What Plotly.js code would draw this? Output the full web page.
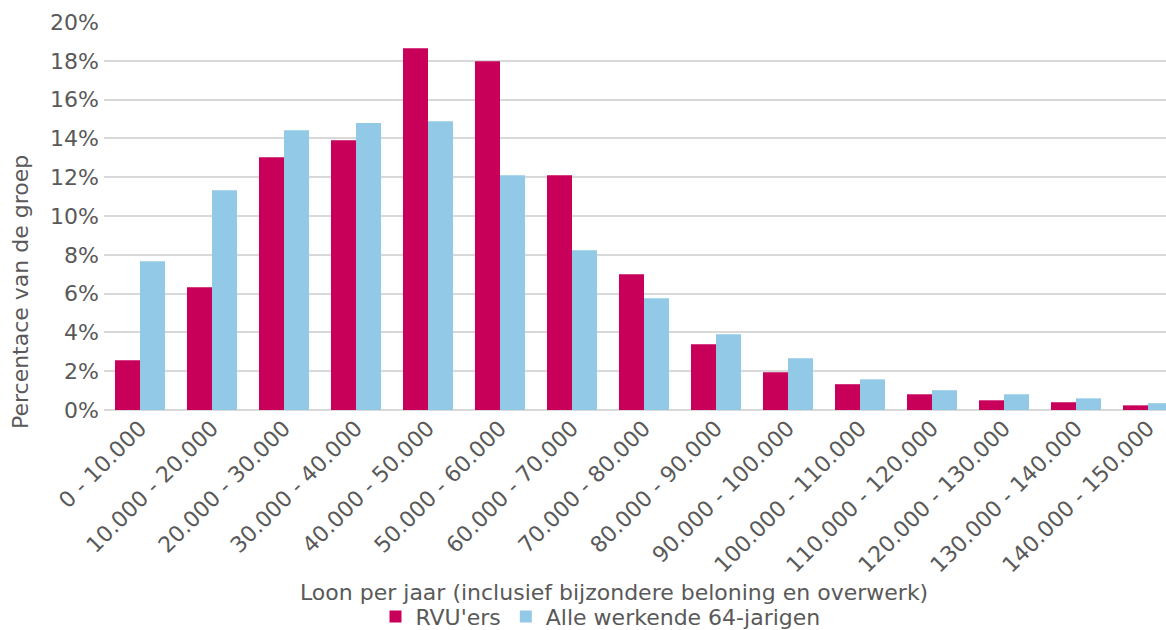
<!DOCTYPE html>
<html>
<head>
<meta charset="utf-8">
<script src="https://cdn.plot.ly/plotly-3.0.1.min.js"></script>
<style>html,body{margin:0;padding:0;background:#fff;}#chart{width:1166px;height:630px;}</style>
</head>
<body>
<div id="chart"></div>
<script>
const categories = ["0 - 10.000","10.000 - 20.000","20.000 - 30.000","30.000 - 40.000","40.000 - 50.000","50.000 - 60.000","60.000 - 70.000","70.000 - 80.000","80.000 - 90.000","90.000 - 100.000","100.000 - 110.000","110.000 - 120.000","120.000 - 130.000","130.000 - 140.000","140.000 - 150.000"];
const rvuValues = [0.0256,0.0633,0.1303,0.1391,0.1865,0.1798,0.1210,0.0700,0.0339,0.0194,0.0133,0.0081,0.0050,0.0040,0.0024];
const alleValues = [0.0767,0.1133,0.1442,0.1479,0.1489,0.1210,0.0824,0.0576,0.0390,0.0267,0.0158,0.0102,0.0081,0.0060,0.0035];
const yTicks = [0,0.02,0.04,0.06,0.08,0.10,0.12,0.14,0.16,0.18,0.20];
const xTitle = "Loon per jaar (inclusief bijzondere beloning en overwerk)";
const yTitle = "Percentace van de groep";

const fam = "DejaVu Sans, sans-serif";
const grey = "#595959";
const fs = 22;
const traces = [
  {type: "bar", name: "RVU'ers", x: categories, y: rvuValues, marker: {color: "#C8005A"}},
  {type: "bar", name: "Alle werkende 64-jarigen", x: categories, y: alleValues, marker: {color: "#91C9E6"}}
];
const layout = {
  width: 1166, height: 630,
  margin: {l: 104, r: 0, t: 22, b: 220},
  paper_bgcolor: "#fff", plot_bgcolor: "#fff",
  font: {family: fam, color: grey, size: fs},
  barmode: "group", bargap: 0.305, bargroupgap: 0,
  xaxis: {
    type: "category", range: [-0.5, 14.25], tickangle: -45,
    tickfont: {family: fam, color: grey, size: fs},
    showgrid: false, showline: false, zeroline: false, ticks: "",
    automargin: false
  },
  yaxis: {
    range: [0, 0.2], tickvals: yTicks, tickformat: ".0%",
    tickfont: {family: fam, color: grey, size: fs},
    ticklabelstandoff: 4,
    showgrid: true, gridcolor: "#d9d9d9", gridwidth: 2,
    zeroline: true, zerolinecolor: "#d9d9d9", zerolinewidth: 2,
    ticks: "", ticklen: 0,
    automargin: false
  },
  annotations: [
    {text: xTitle, xref: "paper", yref: "paper", x: 0.480, y: -0.470, xanchor: "center", yanchor: "middle",
     showarrow: false, font: {family: fam, color: grey, size: fs}},
    {text: yTitle, xref: "paper", yref: "paper", x: -0.0791, y: 0.304, xanchor: "center", yanchor: "middle",
     textangle: -90, showarrow: false, font: {family: fam, color: grey, size: fs}}
  ],
  legend: {
    orientation: "h", xref: "container", x: 0.515, xanchor: "center",
    yref: "container", y: 0.021, yanchor: "middle",
    font: {family: fam, color: grey, size: fs},
    itemwidth: 30, tracegroupgap: 0
  },
  showlegend: true
};
Plotly.newPlot("chart", traces, layout, {displayModeBar: false, staticPlot: true});
</script>
</body>
</html>
